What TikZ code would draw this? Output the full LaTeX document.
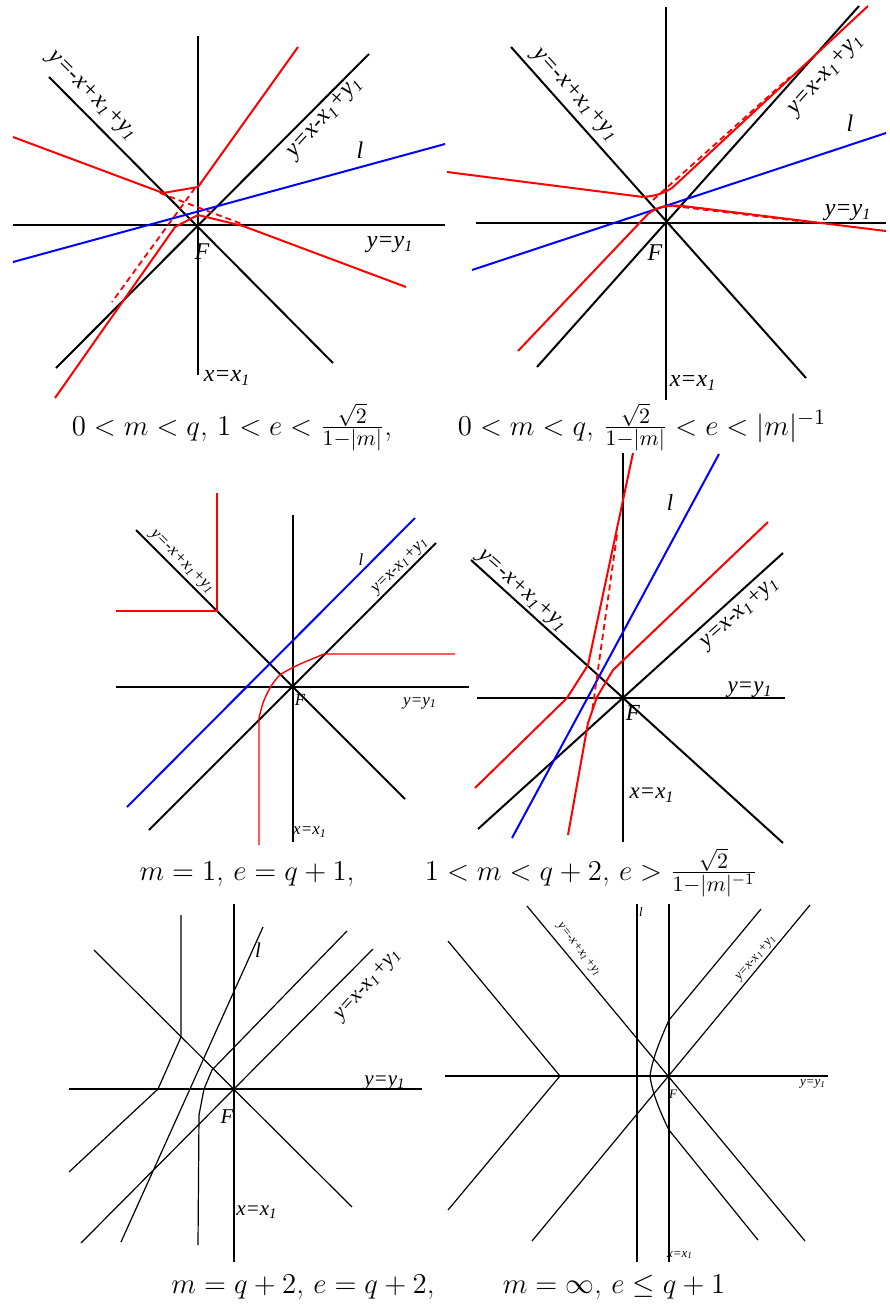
\documentclass[tikz,border=0pt]{standalone}
\usepackage{amsmath}
\usepackage{fontspec}
\newfontfamily\lblfont{Liberation Serif}
\usetikzlibrary{positioning}
\newcommand{\lsub}[1]{\textsubscript{#1}}
\newcommand{\lineA}{y=-x+x\lsub{1}+y\lsub{1}}
\newcommand{\lineB}{y=x-x\lsub{1}+y\lsub{1}}
\newcommand{\lineH}{y=y\lsub{1}}
\newcommand{\lineV}{x=x\lsub{1}}

\begin{document}
\begin{tikzpicture}[
  x=0.5pt, y=-0.5pt,
  ax/.style={black, line width=1pt},
  thinax/.style={black, line width=0.6pt},
  hyp/.style={red, line width=1pt},
  thinhyp/.style={red, line width=0.7pt},
  dhyp/.style={red, line width=0.9pt, dash pattern=on 3pt off 2pt},
  lin/.style={blue, line width=1pt},
  lbl/.style={font={\lblfont\itshape\fontsize{#1}{#1}\selectfont}, inner sep=0pt},
  lbl/.default=12,
  captxt/.style={font=\fontsize{15.5}{18}\selectfont, inner sep=0pt, anchor=base}
]
\useasboundingbox (0,0) rectangle (889,1311);

\draw[ax] (13,225) -- (445,225);
\draw[thinax] (198,36) -- (198,375);
\draw[ax] (49,77) -- (333,363);
\draw[ax] (56,368) -- (369,54);
\draw[lin] (13,262) -- (445,144);
\draw[hyp] (13,137) -- (163,193) -- (198,187) -- (298,47);
\draw[hyp] (55,398) -- (175,227) -- (198,215) -- (243,226) -- (406,287);
\draw[dhyp] (160,193) -- (242,224);
\draw[dhyp] (195,188) -- (112,302);
\node[lbl, rotate=-45] (a1) at (92,96) {\lineA};
\node[lbl, rotate=48] (b1) at (325,118) {\lineB};
\node[lbl] (l1) at (360,150) {l};
\node[lbl] (h1) at (390,245) {\lineH};
\node[lbl] (f1) at (202,252) {F};
\node[lbl] (v1) at (227,378) {\lineV};

\draw[ax] (476,223) -- (886,223);
\draw[thinax] (666,7) -- (666,400);
\draw[ax] (511,47) -- (806,378);
\draw[ax] (537,367) -- (859,6);
\draw[lin] (472,270) -- (886,133);
\draw[hyp] (447,172) -- (643,197) .. controls (655,196) and (662,194) .. (672,188) -- (868,6);
\draw[hyp] (518,351) -- (648,214) .. controls (658,206) and (668,205) .. (683,206) -- (886,231);
\draw[dhyp] (653,200) -- (790,77);
\draw[dhyp] (673,206) -- (807,222);
\node[lbl, rotate=-48] (a2) at (575,95) {\lineA};
\node[lbl, rotate=48] (b2) at (826,75) {\lineB};
\node[lbl] (l2) at (850,123) {l};
\node[lbl] (h2) at (848,213) {\lineH};
\node[lbl] (f2) at (655,253) {F};
\node[lbl] (v2) at (693,383) {\lineV};

\draw[ax] (116,687) -- (469,687);
\draw[ax] (293,515) -- (293,842);
\draw[ax] (136,530) -- (405,799);
\draw[ax] (149,830) -- (436,543);
\draw[lin] (127,807) -- (415,518);
\draw[thinhyp] (217,493) -- (217,611) -- (116,611);
\draw[thinhyp] (259,845) -- (259,718) plot[smooth] coordinates {(259,718) (263,703) (270,688) (280,675) (298,665) (312,659) (324,654)} -- (455,654);
\node[lbl=8.5, rotate=-45] (a3) at (182,562) {\lineA};
\node[lbl=8.5] (l3) at (361,560) {l};
\node[lbl=8.5, rotate=45] (b3) at (400,566) {\lineB};
\node[lbl=8.5] (f3) at (300,700) {F};
\node[lbl=8.5] (h3) at (420,703) {\lineH};
\node[lbl=8.5] (v3) at (310,832) {\lineV};

\draw[ax] (477,698) -- (785,698);
\draw[ax] (623,453) -- (623,842);
\draw[ax] (471,560) -- (783,843);
\draw[ax] (478,829) -- (783,553);
\draw[lin] (512,838) -- (719,454);
\draw[hyp] (475,788) -- (567,698) -- (588,665) -- (633,453);
\draw[hyp] (568,835) -- (588,723) -- (597,697) -- (613,670) -- (768,522);
\draw[dhyp] (617,535) -- (592,712);
\node[lbl=11.5] (l4) at (670,503) {l};
\node[lbl=11.5, rotate=-42] (a4) at (522,591) {\lineA};
\node[lbl=11.5, rotate=42] (b4) at (740,613) {\lineB};
\node[lbl=11.5] (h4) at (750,690) {\lineH};
\node[lbl=11.5] (f4) at (633,713) {F};
\node[lbl=11.5] (v4) at (652,795) {\lineV};

\draw[ax] (234,904) -- (234,1262);
\draw[thinax] (69,1089) -- (422,1089);
\draw[thinax] (94,950) -- (352,1207);
\draw[thinax] (81,1243) -- (373,949);
\draw[thinax] (347,931) -- (212,1070) -- (204,1089) -- (199,1115) -- (198,1245);
\draw[thinax] (181,915) -- (181,1037) -- (158,1089) -- (69,1172);
\draw[thinax] (263,927) -- (121,1242);
\node[lbl=10.5] (l5) at (258,950) {l};
\node[lbl=10.5, rotate=48] (b5) at (368,985) {\lineB};
\node[lbl=10.5] (h5) at (385,1083) {\lineH};
\node[lbl=10.5] (f5) at (227,1117) {F};
\node[lbl=10.5] (v5) at (257,1212) {\lineV};

\draw[ax] (669,904) -- (669,1262);
\draw[ax] (637,904) -- (637,1262);
\draw[thinax] (445,1076) -- (828,1076);
\draw[thinax] (527,906) -- (805,1241);
\draw[thinax] (532,1241) -- (810,905);
\draw[thinax] (448,941) -- (560,1076) -- (448,1210);
\draw[thinax] (761,909) -- (669,1020) .. controls (660,1040) and (652,1060) .. (650,1076) .. controls (652,1092) and (660,1112) .. (669,1130) -- (758,1240);
\node[lbl=6.5] (l6) at (641,912) {l};
\node[lbl=6.5, rotate=-52] (a6) at (579,950) {\lineA};
\node[lbl=6.5, rotate=50] (b6) at (756,958) {\lineB};
\node[lbl=6.5] (h6) at (813,1084) {\lineH};
\node[lbl=6.5] (f6) at (673,1094) {F};
\node[lbl=6.5] (v6) at (680,1255) {\lineV};

\node[captxt] (c1) at (232,435) {$0<m<q$, $1<e<\frac{\sqrt{2}}{1-|m|}$,};
\node[captxt] (c2) at (642,435) {$0<m<q$, $\frac{\sqrt{2}}{1-|m|}<e<|m|^{-1}$};
\node[captxt] (c3) at (247,880) {$m=1$, $e=q+1$,};
\node[captxt] (c4) at (591,880) {$1<m<q+2$, $e>\frac{\sqrt{2}}{1-|m|^{-1}}$};
\node[captxt] (c5) at (303,1293) {$m=q+2$, $e=q+2$,};
\node[captxt] (c6) at (614,1293) {$m=\infty$, $e\le q+1$};
\end{tikzpicture}
\end{document}
